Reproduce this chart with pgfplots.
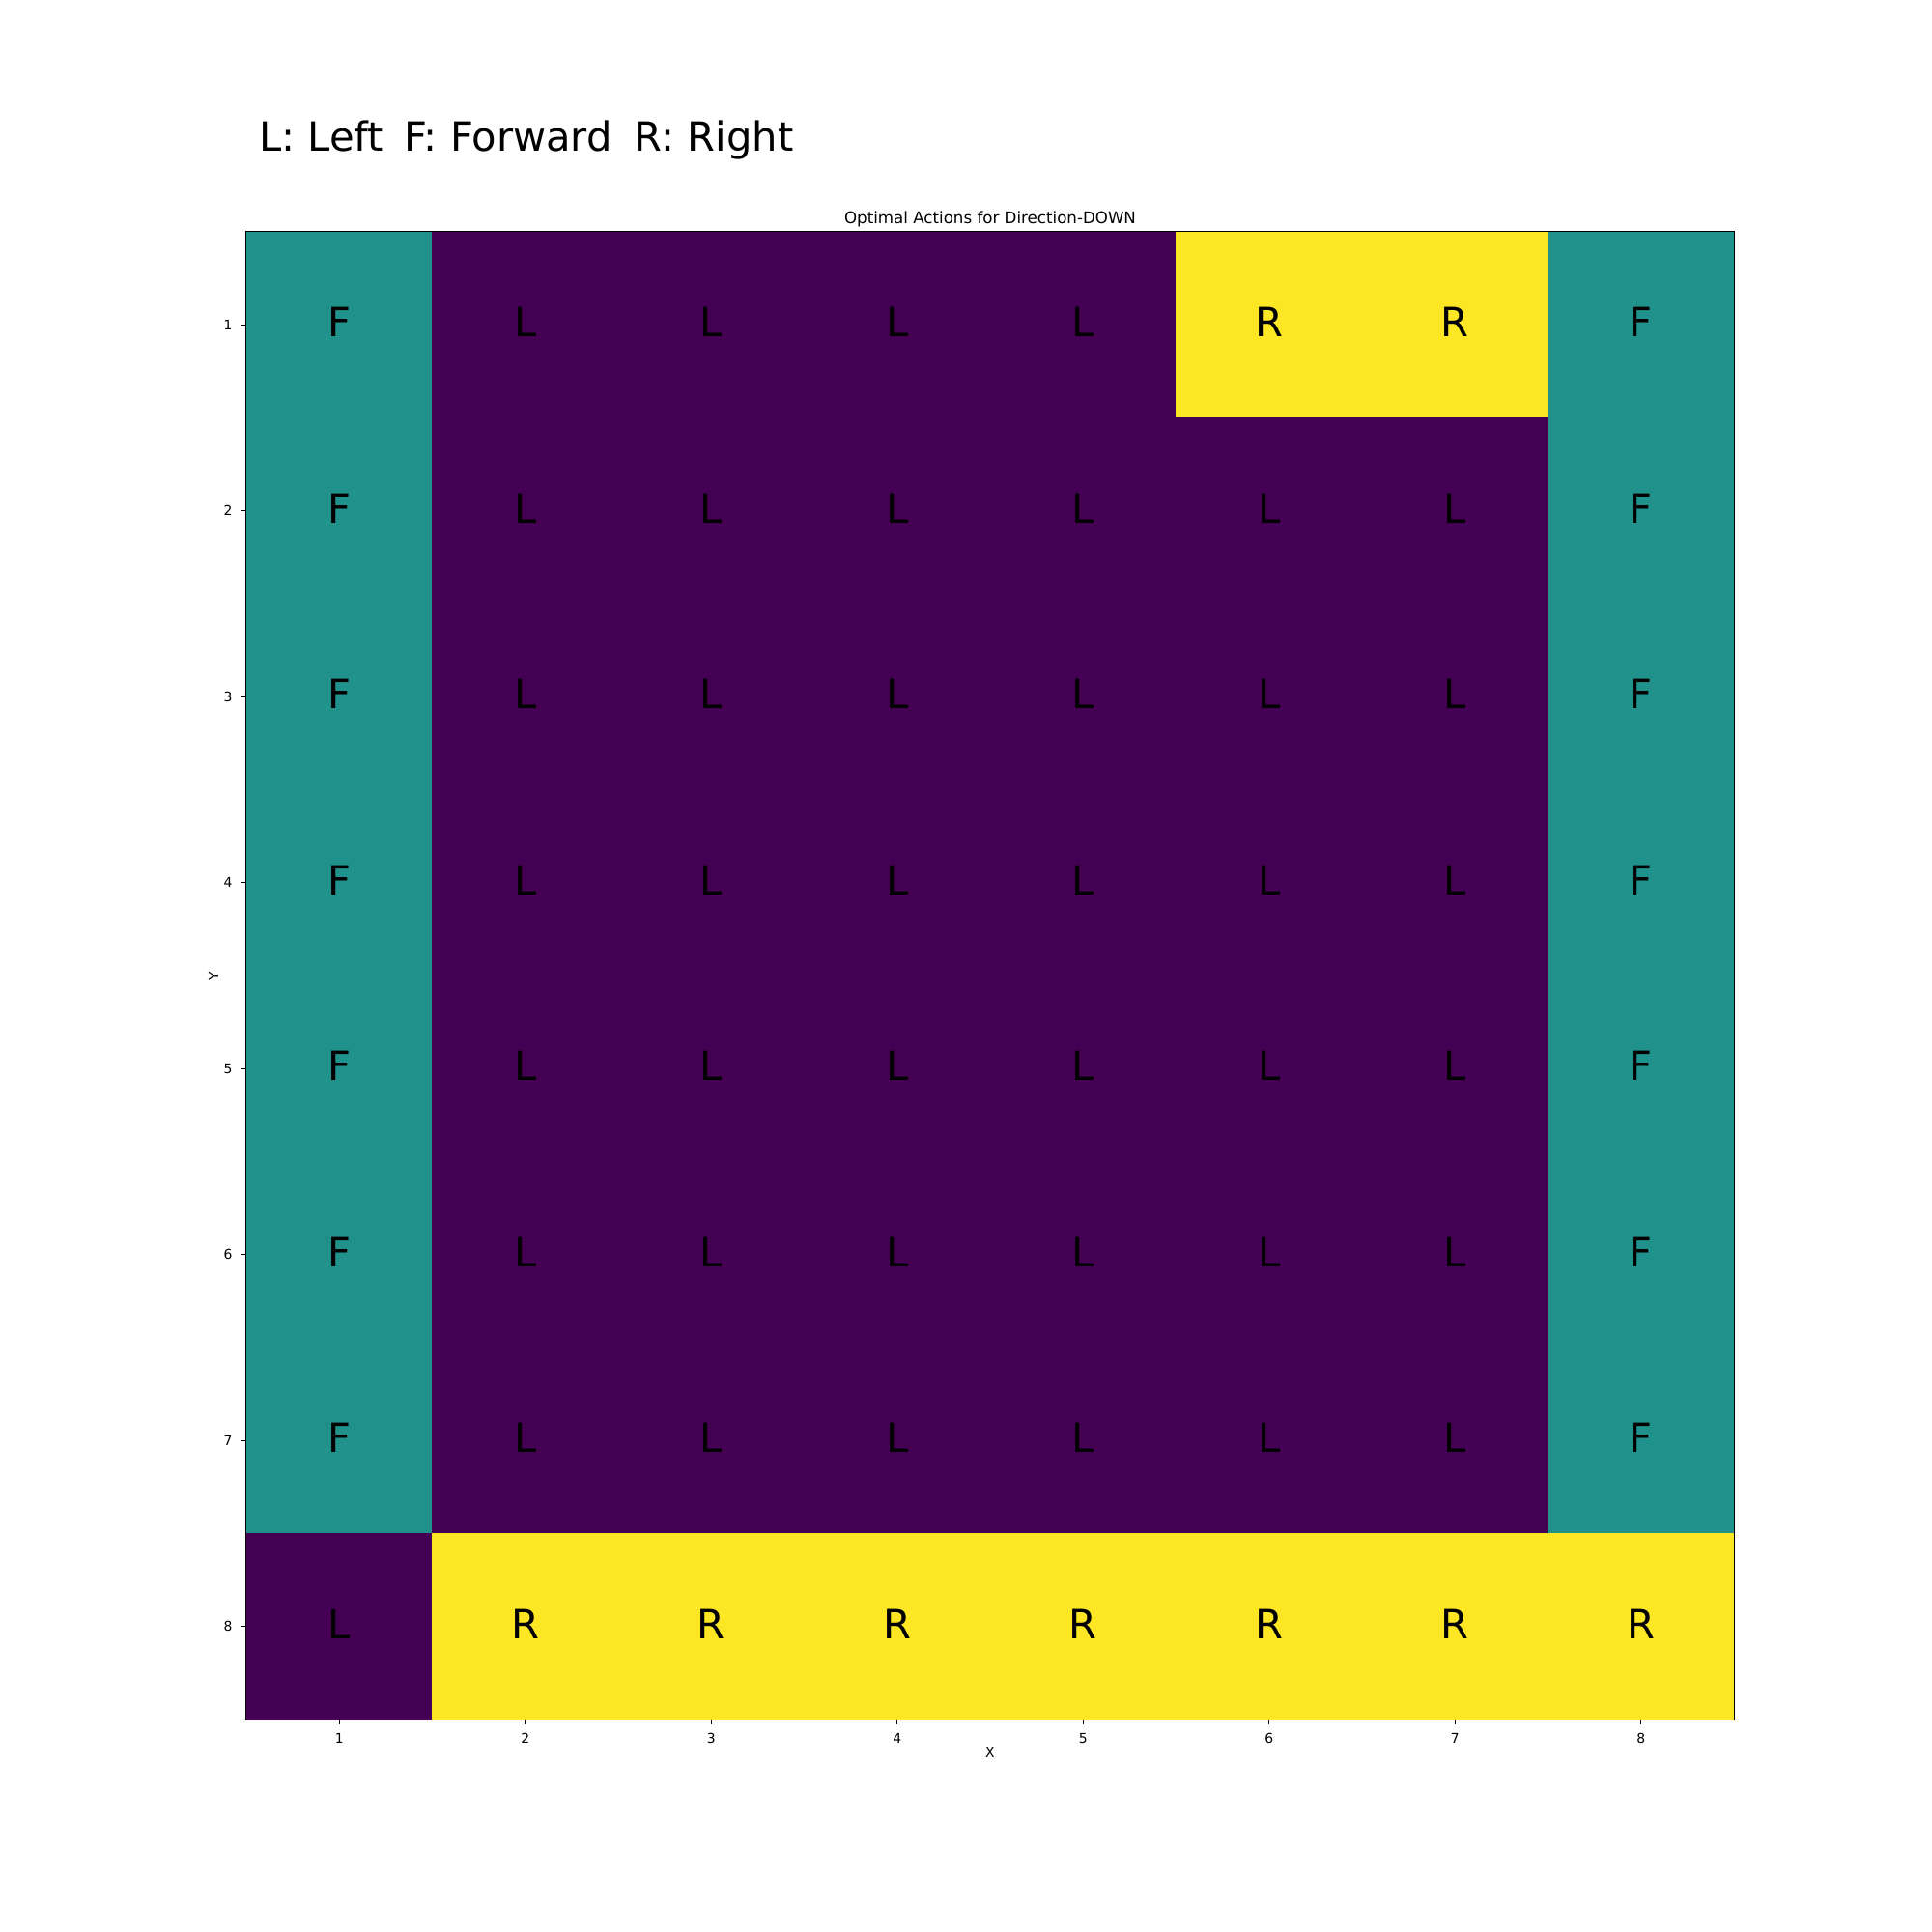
\documentclass[border=0pt]{standalone}
\usepackage{pgfplots}
\pgfplotsset{compat=1.18}
\usepackage{fontspec}
\setmainfont{DejaVu Sans}
\begin{document}
\begin{tikzpicture}
\path[use as bounding box] (0,0) rectangle (1440pt,1440pt);
\node[anchor=base west, inner sep=0pt, font=\fontsize{30}{36}\selectfont] at (193pt,1327pt) {L: Left\ \hspace{5.5pt}F: Forward\ \hspace{7pt}R: Right};
\begin{axis}[
  at={(183.6pt,158.4pt)}, anchor=south west,
  scale only axis, width=1108.8pt, height=1108.8pt,
  xmin=0.5, xmax=8.5, ymin=0.5, ymax=8.5,
  enlargelimits=false,
  y dir=reverse,
  xtick={1,...,8}, ytick={1,...,8},
  tick pos=left, tick align=outside, major tick length=3.5pt,
  tick style={black, line width=0.8pt},
  axis line style={line width=0.8pt},
  /pgf/number format/assume math mode=true,
  tick label style={font=\fontsize{10}{12}\selectfont},
  xticklabel style={yshift=-3.5pt},
  yticklabel style={xshift=-3.5pt},
  colormap={act}{rgb255(0)=(68,1,84) rgb255(1)=(33,145,140) rgb255(2)=(253,231,37)},
  point meta min=0, point meta max=2,
  title={Optimal Actions for Direction-DOWN},
  title style={at={(axis description cs:0.5,1)}, anchor=base, yshift=0pt, inner sep=0pt, font=\fontsize{12}{14}\selectfont},
  xlabel={X}, ylabel={Y},
  xlabel style={at={(axis description cs:0.5,-0.0221)}, anchor=center, inner sep=0pt, font=\fontsize{10}{12}\selectfont},
  ylabel style={at={(axis description cs:-0.0221,0.5)}, anchor=center, inner sep=0pt, font=\fontsize{10}{12}\selectfont},
]
\addplot[matrix plot*, mesh/cols=8, mesh/rows=8, point meta=explicit] table[x=x, y=y, meta=c] {
x y c
1 1 1
2 1 0
3 1 0
4 1 0
5 1 0
6 1 2
7 1 2
8 1 1
1 2 1
2 2 0
3 2 0
4 2 0
5 2 0
6 2 0
7 2 0
8 2 1
1 3 1
2 3 0
3 3 0
4 3 0
5 3 0
6 3 0
7 3 0
8 3 1
1 4 1
2 4 0
3 4 0
4 4 0
5 4 0
6 4 0
7 4 0
8 4 1
1 5 1
2 5 0
3 5 0
4 5 0
5 5 0
6 5 0
7 5 0
8 5 1
1 6 1
2 6 0
3 6 0
4 6 0
5 6 0
6 6 0
7 6 0
8 6 1
1 7 1
2 7 0
3 7 0
4 7 0
5 7 0
6 7 0
7 7 0
8 7 1
1 8 0
2 8 2
3 8 2
4 8 2
5 8 2
6 8 2
7 8 2
8 8 2
};
\addplot[only marks, mark=none, point meta=explicit symbolic,
  nodes near coords, nodes near coords align={center},
  every node near coord/.append style={font=\fontsize{30}{36}\selectfont, anchor=center, yshift=2pt, text=black, inner sep=0pt}]
  table[x=x, y=y, meta=t] {
x y t
1 1 F
2 1 L
3 1 L
4 1 L
5 1 L
6 1 R
7 1 R
8 1 F
1 2 F
2 2 L
3 2 L
4 2 L
5 2 L
6 2 L
7 2 L
8 2 F
1 3 F
2 3 L
3 3 L
4 3 L
5 3 L
6 3 L
7 3 L
8 3 F
1 4 F
2 4 L
3 4 L
4 4 L
5 4 L
6 4 L
7 4 L
8 4 F
1 5 F
2 5 L
3 5 L
4 5 L
5 5 L
6 5 L
7 5 L
8 5 F
1 6 F
2 6 L
3 6 L
4 6 L
5 6 L
6 6 L
7 6 L
8 6 F
1 7 F
2 7 L
3 7 L
4 7 L
5 7 L
6 7 L
7 7 L
8 7 F
1 8 L
2 8 R
3 8 R
4 8 R
5 8 R
6 8 R
7 8 R
8 8 R
};
\end{axis}
\end{tikzpicture}
\end{document}
